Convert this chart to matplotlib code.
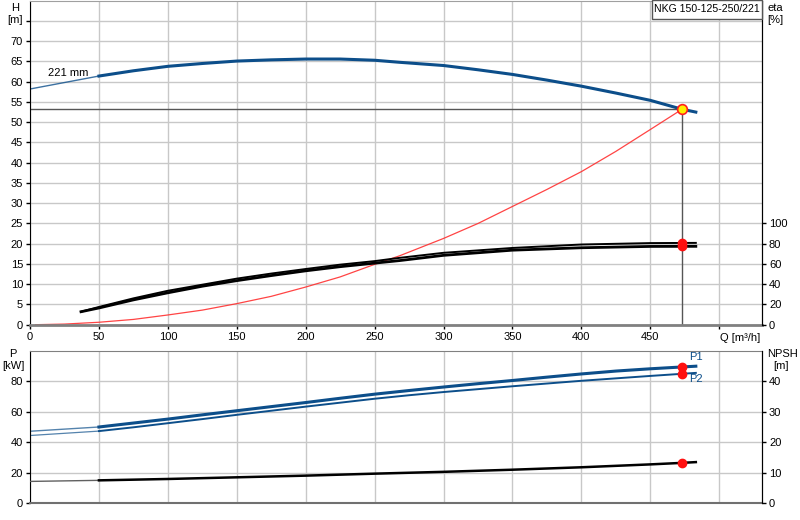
import matplotlib
matplotlib.use("Agg")
import matplotlib.pyplot as plt
from matplotlib.patches import Rectangle
import numpy as np

plt.rcParams['font.family'] = ['Liberation Sans', 'DejaVu Sans']
plt.rcParams['font.size'] = 8

# --- data ---
# pump head curve, 221 mm impeller
q_head = [0, 25, 50, 75, 100, 125, 150, 175, 200, 225, 250, 268,
          300, 325, 350, 375, 400, 425, 450, 473, 483]
h_head = [58.2, 59.8, 61.4, 62.7, 63.8, 64.5, 65.1, 65.4, 65.6, 65.6, 65.3, 64.8,
          64.0, 62.95, 61.8, 60.4, 58.9, 57.2, 55.4, 53.2, 52.5]

# system curve (red)
q_sys = [4, 25, 50, 75, 100, 125, 150, 175, 200, 225, 250, 268,
         300, 325, 350, 375, 400, 425, 450, 473]
h_sys = [0.0, 0.15, 0.6, 1.3, 2.4, 3.6, 5.2, 7.0, 9.3, 11.8, 14.9, 17.0,
         21.3, 25.0, 29.2, 33.4, 37.8, 42.8, 48.2, 53.2]

# efficiency curves [%]
q_eta = [37, 50, 75, 100, 125, 150, 175, 200, 225, 250, 268,
         300, 350, 400, 450, 483]
eta_1 = [12.8, 17.5, 26.0, 33.5, 39.5, 45.5, 50.5, 55.0, 59.3, 62.8, 66.0,
         71.0, 75.8, 79.2, 80.6, 80.8]
eta_2 = [12.8, 16.5, 24.5, 31.5, 38.0, 43.5, 48.5, 53.2, 57.3, 60.8, 63.3,
         68.5, 73.6, 76.0, 77.3, 77.4]

# power P1 / P2 [kW]
q_pow = [0, 50, 75, 100, 125, 150, 175, 200, 225, 250, 275,
         300, 325, 350, 375, 400, 425, 450, 473, 483]
p1 = [47.2, 50.0, 52.6, 55.2, 58.0, 60.7, 63.4, 66.1, 68.9, 71.6, 74.0,
      76.3, 78.5, 80.6, 82.8, 84.9, 86.8, 88.3, 89.5, 90.0]
p2 = [44.4, 47.3, 49.8, 52.5, 55.2, 58.0, 60.7, 63.4, 66.0, 68.6, 70.9,
      73.0, 74.9, 76.8, 78.6, 80.4, 82.0, 83.6, 85.0, 85.6]

# NPSH [m]
q_npsh = [0, 50, 100, 150, 200, 250, 300, 350, 400, 450, 473, 483]
npsh = [7.1, 7.45, 7.9, 8.45, 9.0, 9.65, 10.25, 10.95, 11.75, 12.7, 13.2, 13.45]

# duty point
q_duty = 473
h_duty = 53.2
eta_duty = [80.6, 77.3]
p_duty = [89.5, 85.0]
npsh_duty = 13.2

blue = '#0c4e8a'
grid_c = '#c8c8c8'

fig = plt.figure(figsize=(8, 5.2), dpi=100)

# ---------------- upper chart: H / eta ----------------
ax = fig.add_axes([0.0375, 0.3756, 0.915, 0.623])
ax.set_xlim(0, 531)
ax.set_ylim(0, 80)
ax.set_xticks(np.arange(0, 501, 50))
ax.set_xticklabels([str(v) for v in range(0, 451, 50)] + [''])
ax.set_yticks(np.arange(0, 76, 5))
ax.set_yticklabels([str(v) for v in range(0, 71, 5)] + [''])
ax.grid(True, color=grid_c, lw=1)
ax.set_axisbelow(True)
ax.tick_params(length=3, pad=2, width=1)
ax.spines['left'].set_color('black')
ax.spines['bottom'].set_color('#808080')
ax.spines['bottom'].set_linewidth(2)
ax.spines['top'].set_color('#a0a0a0')
ax.spines['right'].set_color('black')

ax.plot(q_head[:3], h_head[:3], color=blue, lw=1, alpha=0.8)
ax.plot(q_head[2:], h_head[2:], color=blue, lw=2.2, solid_joinstyle='round')
ax.plot(q_sys, h_sys, color='#ff3030', lw=0.9, alpha=0.9)
ax.plot([0, q_duty], [h_duty, h_duty], color='#555555', lw=1)
ax.plot([q_duty, q_duty], [0, h_duty], color='#555555', lw=1)
ax.plot([q_duty], [h_duty], 'o', ms=7, mfc='#ffee00', mec='#ff2020', mew=1.2, zorder=6)
ax.text(13, 62.2, '221 mm', fontsize=8, va='center')
ax.text(0.97, -0.025, 'Q [m³/h]', transform=ax.transAxes, ha='center', va='top', fontsize=8)

# type label box in the top right corner
fig.add_artist(Rectangle((652 / 800, 1 - 19 / 520), 110 / 800, 19 / 520,
                         transform=fig.transFigure, fc='white', ec='#555555', lw=1, zorder=10))
fig.text(707 / 800, 1 - 9.5 / 520, 'NKG 150-125-250/221', ha='center', va='center',
         fontsize=7.6, zorder=11)

ax_e = ax.twinx()
ax_e.set_ylim(0, 320)
ax_e.set_yticks(np.arange(0, 101, 20))
ax_e.tick_params(length=3, pad=2, width=1)
for s in ['top', 'left', 'bottom']:
    ax_e.spines[s].set_visible(False)
ax_e.spines['right'].set_color('black')
ax_e.plot(q_eta, eta_1, color='black', lw=1.4)
ax_e.plot(q_eta, eta_2, color='black', lw=2.0)
ax_e.plot([q_duty, q_duty], eta_duty, 'o', color='#ff1010', ms=6, zorder=6)

fig.text(15 / 800, 1 - 8 / 520, 'H', ha='center', va='center', fontsize=8)
fig.text(15 / 800, 1 - 20 / 520, '[m]', ha='center', va='center', fontsize=8)
fig.text(767 / 800, 1 - 8 / 520, 'eta', ha='left', va='center', fontsize=8)
fig.text(767 / 800, 1 - 20 / 520, '[%]', ha='left', va='center', fontsize=8)

# ---------------- lower chart: P / NPSH ----------------
bx = fig.add_axes([0.0375, 0.0327, 0.915, 0.2923])
bx.set_xlim(0, 531)
bx.set_ylim(0, 100)
bx.set_xticks(np.arange(0, 501, 50))
bx.set_xticklabels([])
bx.set_yticks(np.arange(0, 81, 20))
bx.grid(True, color=grid_c, lw=1)
bx.set_axisbelow(True)
bx.tick_params(length=3, pad=2, width=1)
bx.tick_params(axis='x', length=0)
bx.spines['left'].set_color('black')
bx.spines['bottom'].set_color('#707070')
bx.spines['bottom'].set_linewidth(1.5)
bx.spines['top'].set_color('#808080')
bx.spines['right'].set_color('black')

bx.plot(q_pow[:2], p1[:2], color=blue, lw=1, alpha=0.7)
bx.plot(q_pow[1:], p1[1:], color=blue, lw=2.2, solid_joinstyle='round')
bx.plot(q_pow[:2], p2[:2], color=blue, lw=0.9, alpha=0.7)
bx.plot(q_pow[1:], p2[1:], color=blue, lw=1.4, solid_joinstyle='round')
bx.plot([q_duty, q_duty], p_duty, 'o', color='#ff1010', ms=6, zorder=6)
bx.text(478, 96, 'P1', color=blue, fontsize=8, ha='left', va='center')
bx.text(478, 81.5, 'P2', color=blue, fontsize=8, ha='left', va='center')

bx_n = bx.twinx()
bx_n.set_ylim(0, 50)
bx_n.set_yticks(np.arange(0, 41, 10))
bx_n.tick_params(length=3, pad=2, width=1)
for s in ['top', 'left', 'bottom']:
    bx_n.spines[s].set_visible(False)
bx_n.spines['right'].set_color('black')
bx_n.plot(q_npsh[:2], npsh[:2], color='#606060', lw=1)
bx_n.plot(q_npsh[1:], npsh[1:], color='black', lw=1.8, solid_joinstyle='round')
bx_n.plot([q_duty], [npsh_duty], 'o', color='#ff1010', ms=6, zorder=6)

fig.text(13 / 800, 1 - 354 / 520, 'P', ha='center', va='center', fontsize=8)
fig.text(13 / 800, 1 - 366 / 520, '[kW]', ha='center', va='center', fontsize=8)
fig.text(767 / 800, 1 - 354 / 520, 'NPSH', ha='left', va='center', fontsize=8)
fig.text(773 / 800, 1 - 366 / 520, '[m]', ha='left', va='center', fontsize=8)

fig.savefig('out.png', dpi=100)
